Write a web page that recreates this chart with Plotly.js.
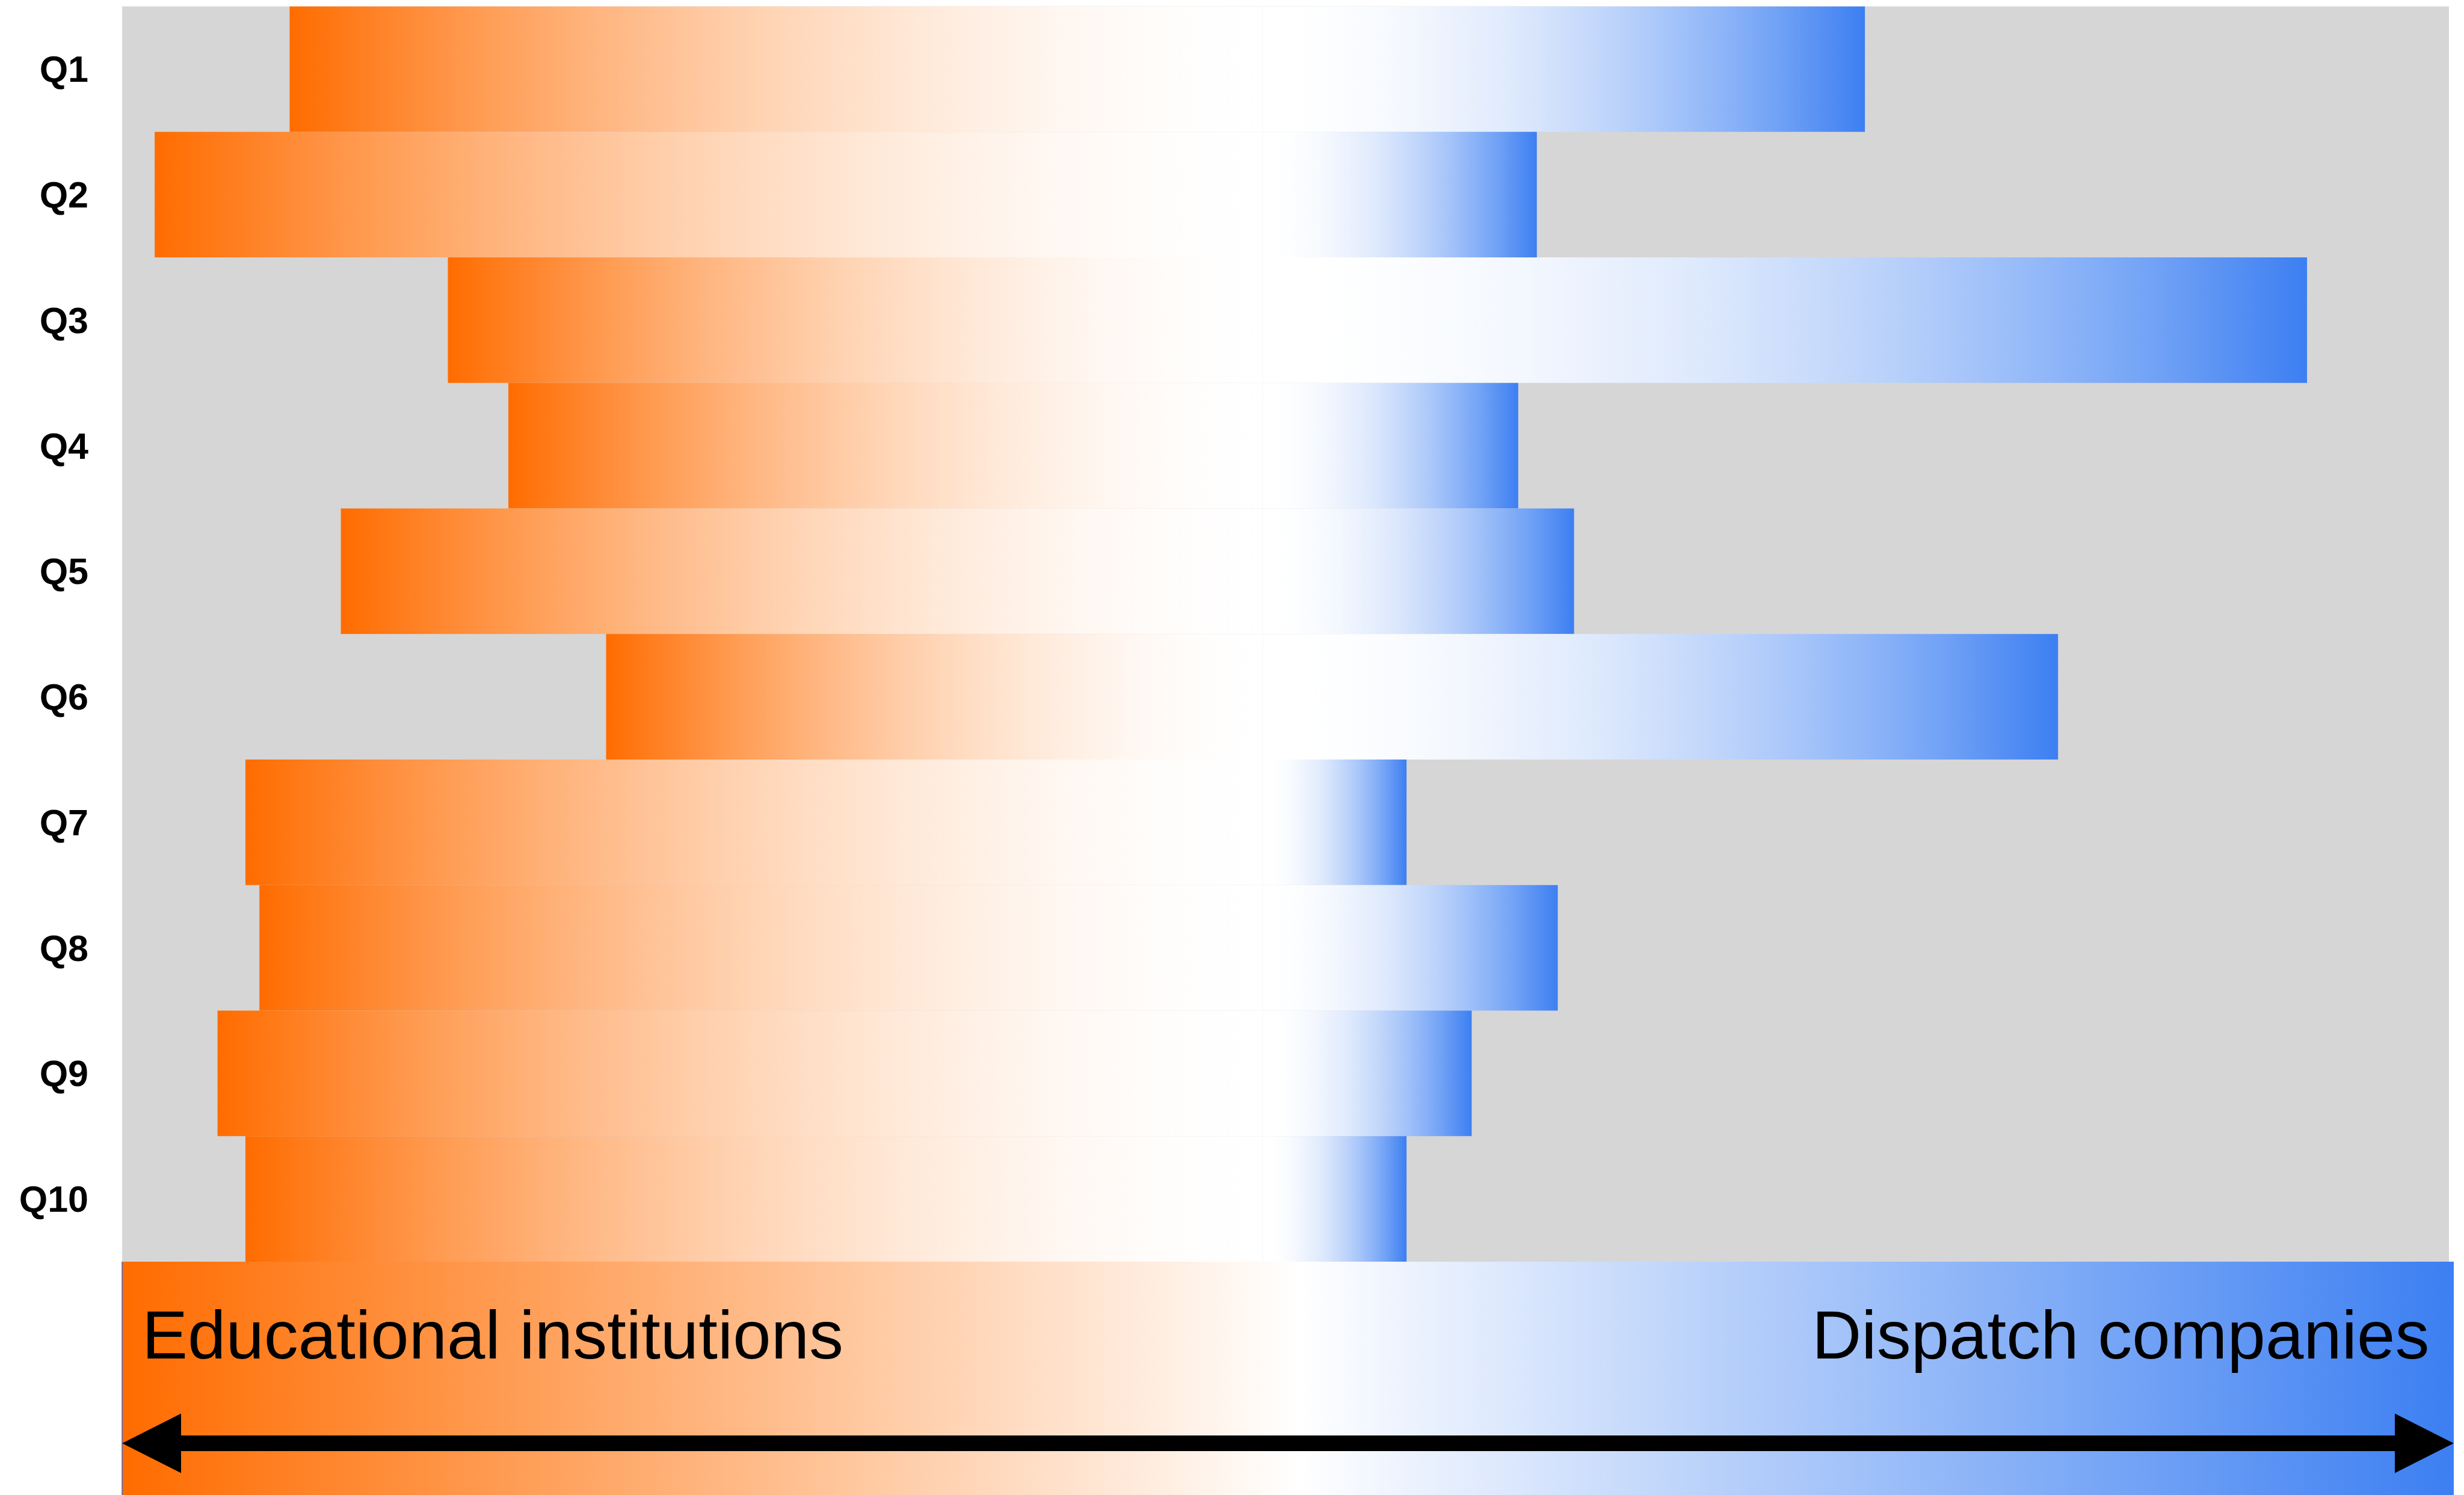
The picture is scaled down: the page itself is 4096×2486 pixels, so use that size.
<!DOCTYPE html>
<html>
<head>
<meta charset="utf-8">
<script src="https://cdn.plot.ly/plotly-3.0.1.min.js"></script>
<style>
  html, body { margin: 0; padding: 0; background: #ffffff; }
  #chart { width: 4096px; height: 2486px; }
</style>
</head>
<body>
<div id="chart"></div>
<script>
// ---- data ----
const categories = ['Q1', 'Q2', 'Q3', 'Q4', 'Q5', 'Q6', 'Q7', 'Q8', 'Q9', 'Q10'];
// length of the bar toward "Educational institutions" (left side, in % of axis width)
const educational = [41.8, 47.6, 35.0, 32.4, 39.6, 28.2, 43.7, 43.1, 44.9, 43.7];
// length of the bar toward "Dispatch companies" (right side, in % of axis width)
const dispatch = [25.9, 11.8, 44.9, 11.0, 13.4, 34.2, 6.2, 12.7, 9.0, 6.2];
const sideLabels = ['Educational institutions', 'Dispatch companies'];

// ---- styles ----
const ORANGE = [255, 108, 0];
const BLUE = [60, 127, 242];
const WHITE = [255, 255, 255];
const GAMMA_ORANGE = 1.8;
const GAMMA_BLUE = 2.0;
const FONT = 'Liberation Sans, Arial, Helvetica, sans-serif';

function mix(a, b, t) {
  return 'rgb(' + a.map((v, i) => Math.round(v + (b[i] - v) * t)).join(',') + ')';
}
function scale(toColor, fromEnd, gamma) {
  const out = [];
  for (let k = 0; k <= 20; k++) {
    const t = k / 20;
    const inten = fromEnd ? Math.pow(1 - t, gamma) : Math.pow(t, gamma);
    out.push([t, mix(WHITE, toColor, inten)]);
  }
  return out;
}
const orangeScale = scale(ORANGE, true, GAMMA_ORANGE);
const blueScale = scale(BLUE, false, GAMMA_BLUE);

const traces = [];
categories.forEach((cat, i) => {
  const L = educational[i];
  const R = dispatch[i];
  traces.push({
    type: 'scatter', mode: 'none', fill: 'toself', name: cat + ' ' + sideLabels[0],
    x: [-L, 0, 0, -L, -L],
    y: [i - 0.5, i - 0.5, i + 0.5, i + 0.5, i - 0.5],
    fillgradient: { type: 'horizontal', colorscale: orangeScale, start: -L, stop: 0 },
    hoverinfo: 'skip', showlegend: false, xaxis: 'x', yaxis: 'y'
  });
  traces.push({
    type: 'scatter', mode: 'none', fill: 'toself', name: cat + ' ' + sideLabels[1],
    x: [0, R, R, 0, 0],
    y: [i - 0.5, i - 0.5, i + 0.5, i + 0.5, i - 0.5],
    fillgradient: { type: 'horizontal', colorscale: blueScale, start: 0, stop: R },
    hoverinfo: 'skip', showlegend: false, xaxis: 'x', yaxis: 'y'
  });
});

// legend gradient band (fills its own small subplot)
traces.push({
  type: 'scatter', mode: 'none', fill: 'toself',
  x: [0, 1, 1, 0, 0], y: [0, 0, 1, 1, 0],
  fillgradient: {
    type: 'horizontal', start: 0, stop: 1,
    colorscale: [[0, mix(WHITE, ORANGE, 1)], [0.505, '#ffffff'], [1, mix(WHITE, BLUE, 1)]]
  },
  hoverinfo: 'skip', showlegend: false, xaxis: 'x2', yaxis: 'y2'
});

const W = 4096, H = 2486;
const px = v => v / W;
const py = v => 1 - v / H;
const arrowY = py(2400);

const layout = {
  width: W, height: H, autosize: false,
  margin: { l: 0, r: 0, t: 0, b: 0, pad: 0 },
  paper_bgcolor: '#ffffff',
  plot_bgcolor: '#d6d6d6',
  showlegend: false,
  xaxis: {
    domain: [px(203), px(4071)], range: [-49, 51], visible: false,
    showgrid: false, zeroline: false, fixedrange: true
  },
  yaxis: {
    domain: [py(2098), py(10.6)], range: [9.5, -0.5],
    tickvals: categories.map((c, i) => i), ticktext: categories,
    showgrid: false, zeroline: false, showline: false, ticks: '',
    ticklabelstandoff: 55,
    tickfont: { family: FONT, size: 61, color: '#000000', weight: 'bold' },
    fixedrange: true
  },
  xaxis2: {
    domain: [px(203), px(4079)], range: [0, 1], anchor: 'y2', visible: false,
    showgrid: false, zeroline: false, fixedrange: true
  },
  yaxis2: {
    domain: [0, py(2098)], range: [0, 1], anchor: 'x2', visible: false,
    showgrid: false, zeroline: false, fixedrange: true
  },
  annotations: [
    {
      xref: 'paper', yref: 'paper', x: px(234), y: 0.1072, xanchor: 'left', yanchor: 'middle',
      text: sideLabels[0], showarrow: false,
      font: { family: FONT, size: 114, color: '#000000' }
    },
    {
      xref: 'paper', yref: 'paper', x: px(4041), y: 0.1072, xanchor: 'right', yanchor: 'middle',
      text: sideLabels[1], showarrow: false,
      font: { family: FONT, size: 114, color: '#000000' }
    }
  ],
  shapes: [
    { type: 'line', xref: 'paper', yref: 'paper', x0: px(203), x1: px(203), y0: 0, y1: py(2098),
      line: { color: '#3a64c8', width: 1.5 } },
    { type: 'line', xref: 'paper', yref: 'paper', x0: px(290), x1: px(3992), y0: arrowY, y1: arrowY,
      line: { color: '#000000', width: 26 } },
    { type: 'path', xref: 'paper', yref: 'paper', xsizemode: 'pixel', ysizemode: 'pixel',
      xanchor: px(203), yanchor: arrowY, path: 'M0,0 L98,49.5 L98,-49.5 Z',
      fillcolor: '#000000', line: { width: 0 } },
    { type: 'path', xref: 'paper', yref: 'paper', xsizemode: 'pixel', ysizemode: 'pixel',
      xanchor: px(4079), yanchor: arrowY, path: 'M0,0 L-98,49.5 L-98,-49.5 Z',
      fillcolor: '#000000', line: { width: 0 } }
  ]
};

Plotly.newPlot('chart', traces, layout, { displayModeBar: false, staticPlot: true });
</script>
</body>
</html>
